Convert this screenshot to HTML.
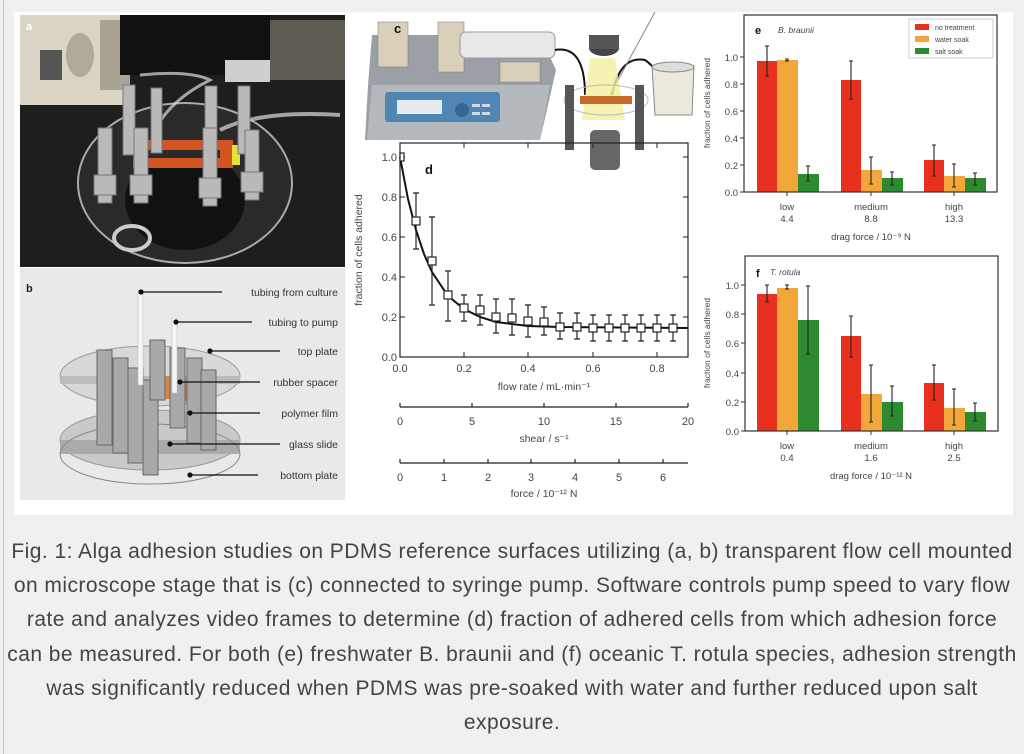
<!DOCTYPE html>
<html><head><meta charset="utf-8"><style>
html,body{margin:0;padding:0;background:#f0f0f0;width:1024px;height:754px;overflow:hidden;font-family:"Liberation Sans",sans-serif}
#wrap{position:absolute;left:3px;top:0;width:1021px;height:754px;border-left:1px solid #c8c8c8;background:#f0f0f0}
svg{position:absolute;left:0;top:0}
#cap{position:absolute;left:0;top:535px;width:1024px;text-align:center;font-size:21px;letter-spacing:0.45px;line-height:34.2px;color:#444;white-space:nowrap}
</style></head><body>
<div id="wrap"></div>
<svg width="1024" height="520" viewBox="0 0 1024 520" font-family="Liberation Sans, sans-serif">
<rect x="14" y="12" width="999" height="503" fill="#fff"/>
<!-- Photo a -->
<rect x="20" y="15" width="325" height="252" fill="#1e1e1e"/>
<rect x="20" y="15" width="110" height="90" fill="#d9d4c4"/>
<rect x="40" y="50" width="22" height="30" fill="#555"/>
<ellipse cx="80" cy="55" rx="14" ry="22" fill="#b0aa9a"/>
<rect x="100" y="20" width="30" height="70" fill="#a8a393"/>
<rect x="120" y="15" width="150" height="60" fill="#111"/>
<rect x="270" y="20" width="75" height="60" fill="#5d5b52"/>
<rect x="225" y="60" width="45" height="22" fill="#cfcfcf"/>
<ellipse cx="185" cy="183" rx="107" ry="80" fill="#2a2a2a" stroke="#aaa" stroke-width="2"/>
<ellipse cx="185" cy="200" rx="60" ry="50" fill="#111"/>
<path d="M140 75 Q190 70 210 80 Q170 100 155 130" stroke="#ddd" stroke-width="3" fill="none" opacity=".7"/>
<path d="M220 130 Q260 110 340 115" stroke="#ddd" stroke-width="4" fill="none" opacity=".7"/>
<rect x="133" y="140" width="100" height="28" fill="#d2541f"/>
<rect x="145" y="150" width="75" height="8" fill="#2a2a2a"/>
<rect x="232" y="145" width="8" height="20" fill="#e7e23a"/>
<g fill="#b9b9b9" stroke="#777" stroke-width="1">
<rect x="123" y="85" width="12" height="70"/><rect x="151" y="88" width="11" height="65"/>
<rect x="205" y="86" width="12" height="68"/><rect x="238" y="86" width="12" height="68"/>
<rect x="98" y="128" width="14" height="75"/><rect x="134" y="128" width="14" height="75"/>
<rect x="203" y="128" width="14" height="78"/><rect x="245" y="130" width="14" height="70"/>
<rect x="94" y="175" width="22" height="20"/><rect x="130" y="175" width="22" height="20"/>
<rect x="199" y="178" width="22" height="20"/><rect x="241" y="172" width="22" height="20"/>
</g>
<ellipse cx="132" cy="238" rx="18" ry="12" fill="none" stroke="#ccc" stroke-width="4"/>
<text x="26" y="30" font-size="11" font-weight="bold" fill="#fff">a</text>
<!-- Photo b -->
<rect x="20" y="268" width="325" height="232" fill="#e9e9e9"/>
<ellipse cx="150" cy="440" rx="90" ry="30" fill="#c9c9c9" stroke="#999"/>
<rect x="60" y="440" width="180" height="14" fill="#aaa"/>
<ellipse cx="150" cy="454" rx="90" ry="30" fill="none" stroke="#888"/>
<ellipse cx="150" cy="376" rx="90" ry="30" fill="#d8d8d8" stroke="#999"/>
<rect x="60" y="376" width="180" height="8" fill="#bbb"/>
<polygon points="158,375 195,380 190,402 160,398" fill="#d9843f"/>
<g fill="#a9a9a9" stroke="#666" stroke-width="1">
<rect x="97" y="350" width="15" height="95"/><rect x="113" y="358" width="15" height="95"/>
<rect x="128" y="368" width="15" height="95"/><rect x="143" y="380" width="15" height="95"/>
<rect x="150" y="340" width="15" height="60"/><rect x="170" y="348" width="15" height="80"/>
<rect x="187" y="358" width="15" height="85"/><rect x="201" y="370" width="15" height="80"/>
</g>
<rect x="138" y="290" width="5" height="95" fill="#f5f5f5" stroke="#bbb" stroke-width=".5"/>
<rect x="172" y="318" width="5" height="75" fill="#f5f5f5" stroke="#bbb" stroke-width=".5"/>
<text x="26" y="292" font-size="11" font-weight="bold" fill="#222">b</text>
<g stroke="#111" stroke-width="1.2" fill="#111" font-size="10.5">
<line x1="141" y1="292" x2="222" y2="292"/><circle cx="141" cy="292" r="2"/>
<line x1="176" y1="322" x2="252" y2="322"/><circle cx="176" cy="322" r="2"/>
<line x1="210" y1="351" x2="280" y2="351"/><circle cx="210" cy="351" r="2"/>
<line x1="180" y1="382" x2="260" y2="382"/><circle cx="180" cy="382" r="2"/>
<line x1="190" y1="413" x2="260" y2="413"/><circle cx="190" cy="413" r="2"/>
<line x1="170" y1="444" x2="280" y2="444"/><circle cx="170" cy="444" r="2"/>
<line x1="190" y1="475" x2="258" y2="475"/><circle cx="190" cy="475" r="2"/>
</g>
<g font-size="10.5" fill="#333" text-anchor="end">
<text x="338" y="296">tubing from culture</text><text x="338" y="326">tubing to pump</text>
<text x="338" y="355">top plate</text><text x="338" y="386">rubber spacer</text>
<text x="338" y="417">polymer film</text><text x="338" y="448">glass slide</text>
<text x="338" y="479">bottom plate</text></g>
<!-- Pump c -->
<polygon points="372,35 540,35 556,70 540,140 365,140 368,85" fill="#9aa0a6"/>
<polygon points="372,85 550,85 540,140 367,140" fill="#b4b9bd"/>
<rect x="385" y="92" width="115" height="30" rx="3" fill="#4f86b3"/>
<rect x="397" y="100" width="45" height="14" fill="#e4eaf0"/>
<circle cx="462" cy="110" r="7" fill="#35678f"/>
<g fill="#cfd9e3"><rect x="472" y="104" width="8" height="3"/><rect x="482" y="104" width="8" height="3"/><rect x="472" y="112" width="8" height="3"/><rect x="482" y="112" width="8" height="3"/></g>
<rect x="378" y="22" width="30" height="45" fill="#d8d0b8" stroke="#888" stroke-width=".6"/>
<rect x="438" y="22" width="26" height="50" fill="#d8d0b8" stroke="#888" stroke-width=".6"/>
<rect x="500" y="62" width="40" height="20" fill="#d8d0b8" stroke="#888" stroke-width=".6"/>
<rect x="460" y="32" width="95" height="26" rx="6" fill="#e8e8e8" stroke="#999"/>
<text x="394" y="33" font-size="13" font-weight="bold" fill="#111">c</text>
<path d="M555 50 Q585 45 585 95" stroke="#111" stroke-width="2" fill="none"/>
<path d="M612 95 Q620 55 645 60 Q660 70 665 95" stroke="#111" stroke-width="2" fill="none"/>
<line x1="655" y1="12" x2="610" y2="95" stroke="#888"/>
<polygon points="590,58 615,58 625,120 582,120" fill="#f3efa0" opacity=".8"/>
<ellipse cx="604" cy="48" rx="15" ry="8" fill="#444"/><rect x="589" y="35" width="30" height="14" fill="#555"/>
<ellipse cx="606" cy="100" rx="42" ry="15" fill="none" stroke="#bbb"/>
<rect x="580" y="96" width="52" height="8" fill="#c56b2a"/>
<g fill="#555"><rect x="565" y="85" width="9" height="65"/><rect x="635" y="85" width="9" height="65"/></g>
<rect x="590" y="130" width="30" height="40" rx="5" fill="#666"/>
<path d="M652 66 L694 66 L692 115 L655 115 Z" fill="#ece8dc" stroke="#888"/>
<ellipse cx="673" cy="67" rx="21" ry="5" fill="#ddd" stroke="#888"/>
<!-- Chart d -->
<rect x="400" y="143" width="288" height="214" fill="none" stroke="#222" stroke-width="1.2"/>
<g stroke="#222" stroke-width="1">
<line x1="464" y1="357" x2="464" y2="352"/><line x1="528" y1="357" x2="528" y2="352"/><line x1="593" y1="357" x2="593" y2="352"/><line x1="657" y1="357" x2="657" y2="352"/>
<line x1="464" y1="143" x2="464" y2="148"/><line x1="528" y1="143" x2="528" y2="148"/><line x1="593" y1="143" x2="593" y2="148"/><line x1="657" y1="143" x2="657" y2="148"/>
<line x1="400" y1="317" x2="405" y2="317"/><line x1="400" y1="277" x2="405" y2="277"/><line x1="400" y1="237" x2="405" y2="237"/><line x1="400" y1="197" x2="405" y2="197"/><line x1="400" y1="157" x2="405" y2="157"/>
<line x1="688" y1="317" x2="683" y2="317"/><line x1="688" y1="277" x2="683" y2="277"/><line x1="688" y1="237" x2="683" y2="237"/><line x1="688" y1="197" x2="683" y2="197"/><line x1="688" y1="157" x2="683" y2="157"/>
</g>
<g font-size="11" fill="#444" text-anchor="end">
<text x="397" y="361">0.0</text><text x="397" y="321">0.2</text><text x="397" y="281">0.4</text><text x="397" y="241">0.6</text><text x="397" y="201">0.8</text><text x="397" y="161">1.0</text></g>
<g font-size="11" fill="#444" text-anchor="middle">
<text x="400" y="372">0.0</text><text x="464" y="372">0.2</text><text x="528" y="372">0.4</text><text x="593" y="372">0.6</text><text x="657" y="372">0.8</text>
<text x="544" y="390" font-size="10.5">flow rate / mL·min⁻¹</text></g>
<text x="362" y="250" font-size="10.5" fill="#444" text-anchor="middle" transform="rotate(-90 362 250)">fraction of cells adhered</text>
<text x="425" y="174" font-size="13" font-weight="bold" fill="#111">d</text>
<polyline points="400,157 408,199 416,230 424,254 432,272 448,296 464,309 480,317 496,322 528,326 560,327 688,328" fill="none" stroke="#111" stroke-width="2"/>
<g stroke="#222" stroke-width="1.2" fill="none">
<path d="M416 249V193M413 249h6M413 193h6"/><path d="M432 305V217M429 305h6M429 217h6"/>
<path d="M448 321V271M445 321h6M445 271h6"/><path d="M464 321V295M461 321h6M461 295h6"/>
<path d="M480 325V295M477 325h6M477 295h6"/><path d="M496 333V299M493 333h6M493 299h6"/>
<path d="M512 335V299M509 335h6M509 299h6"/><path d="M528 337V305M525 337h6M525 305h6"/>
<path d="M544 335V307M541 335h6M541 307h6"/><path d="M560 339V313M557 339h6M557 313h6"/>
<path d="M577 339V313M574 339h6M574 313h6"/><path d="M593 341V315M590 341h6M590 315h6"/>
<path d="M609 341V315M606 341h6M606 315h6"/><path d="M625 341V315M622 341h6M622 315h6"/>
<path d="M641 341V315M638 341h6M638 315h6"/><path d="M657 341V315M654 341h6M654 315h6"/>
<path d="M673 341V315M670 341h6M670 315h6"/>
</g>
<g fill="#fff" stroke="#222" stroke-width="1.2">
<rect x="400" y="153" width="4" height="8"/>
<rect x="412" y="217" width="8" height="8"/><rect x="428" y="257" width="8" height="8"/><rect x="444" y="291" width="8" height="8"/>
<rect x="460" y="304" width="8" height="8"/><rect x="476" y="306" width="8" height="8"/><rect x="492" y="313" width="8" height="8"/>
<rect x="508" y="314" width="8" height="8"/><rect x="524" y="317" width="8" height="8"/><rect x="540" y="318" width="8" height="8"/>
<rect x="556" y="323" width="8" height="8"/><rect x="573" y="323" width="8" height="8"/><rect x="589" y="324" width="8" height="8"/>
<rect x="605" y="324" width="8" height="8"/><rect x="621" y="324" width="8" height="8"/><rect x="637" y="324" width="8" height="8"/>
<rect x="653" y="324" width="8" height="8"/><rect x="669" y="324" width="8" height="8"/></g>
<!-- shear axis -->
<g stroke="#222" stroke-width="1.2"><line x1="400" y1="407" x2="688" y2="407"/>
<line x1="400" y1="407" x2="400" y2="403"/><line x1="472" y1="407" x2="472" y2="403"/><line x1="544" y1="407" x2="544" y2="403"/><line x1="616" y1="407" x2="616" y2="403"/><line x1="688" y1="407" x2="688" y2="403"/>
<line x1="400" y1="463" x2="688" y2="463"/>
<line x1="400" y1="463" x2="400" y2="459"/><line x1="444" y1="463" x2="444" y2="459"/><line x1="488" y1="463" x2="488" y2="459"/><line x1="531" y1="463" x2="531" y2="459"/><line x1="575" y1="463" x2="575" y2="459"/><line x1="619" y1="463" x2="619" y2="459"/><line x1="663" y1="463" x2="663" y2="459"/></g>
<g font-size="11" fill="#444" text-anchor="middle">
<text x="400" y="425">0</text><text x="472" y="425">5</text><text x="544" y="425">10</text><text x="616" y="425">15</text><text x="688" y="425">20</text>
<text x="544" y="442" font-size="10.5">shear / s⁻¹</text>
<text x="400" y="481">0</text><text x="444" y="481">1</text><text x="488" y="481">2</text><text x="531" y="481">3</text><text x="575" y="481">4</text><text x="619" y="481">5</text><text x="663" y="481">6</text>
<text x="544" y="497" font-size="10.5">force / 10⁻¹² N</text></g>
<!-- Chart e -->
<g fill="#e8301f"><rect x="757" y="61" width="20" height="131"/><rect x="841" y="80" width="20" height="112"/><rect x="924" y="160" width="20" height="32"/></g>
<g fill="#f3a73a"><rect x="777" y="60" width="21" height="132"/><rect x="861" y="170" width="21" height="22"/><rect x="944" y="176" width="21" height="16"/></g>
<g fill="#2e8a2e"><rect x="798" y="174" width="21" height="18"/><rect x="882" y="178" width="21" height="14"/><rect x="965" y="178" width="21" height="14"/></g>
<g stroke="#222" stroke-width="1.1" fill="none">
<path d="M767 76V46M765 76h4M765 46h4"/><path d="M787 61V59M785 61h4M785 59h4"/><path d="M808 181V166M806 181h4M806 166h4"/>
<path d="M851 99V61M849 99h4M849 61h4"/><path d="M871 184V157M869 184h4M869 157h4"/><path d="M892 185V172M890 185h4M890 172h4"/>
<path d="M934 176V145M932 176h4M932 145h4"/><path d="M954 187V164M952 187h4M952 164h4"/><path d="M975 185V173M973 185h4M973 173h4"/></g>
<rect x="744" y="15" width="253" height="177" fill="none" stroke="#333" stroke-width="1.2"/>
<g stroke="#333"><line x1="787" y1="192" x2="787" y2="196"/><line x1="871" y1="192" x2="871" y2="196"/><line x1="954" y1="192" x2="954" y2="196"/>
<line x1="744" y1="192" x2="740" y2="192"/><line x1="744" y1="165" x2="740" y2="165"/><line x1="744" y1="138" x2="740" y2="138"/><line x1="744" y1="111" x2="740" y2="111"/><line x1="744" y1="84" x2="740" y2="84"/><line x1="744" y1="57" x2="740" y2="57"/></g>
<g font-size="9.5" fill="#444" text-anchor="end"><text x="738" y="196">0.0</text><text x="738" y="169">0.2</text><text x="738" y="142">0.4</text><text x="738" y="115">0.6</text><text x="738" y="88">0.8</text><text x="738" y="61">1.0</text></g>
<g font-size="9.5" fill="#444" text-anchor="middle"><text x="787" y="210">low</text><text x="787" y="222">4.4</text><text x="871" y="210">medium</text><text x="871" y="222">8.8</text><text x="954" y="210">high</text><text x="954" y="222">13.3</text>
<text x="871" y="240">drag force / 10⁻⁹ N</text></g>
<text x="710" y="103" font-size="8.5" fill="#444" text-anchor="middle" transform="rotate(-90 710 103)">fraction of cells adhered</text>
<text x="755" y="34" font-size="11" font-weight="bold" fill="#111">e</text>
<text x="778" y="33" font-size="8.5" font-style="italic" fill="#444">B. braunii</text>
<rect x="909" y="19" width="84" height="39" fill="#fff" stroke="#ccc"/>
<rect x="915" y="24" width="14" height="6" fill="#e8301f"/><rect x="915" y="36" width="14" height="6" fill="#f3a73a"/><rect x="915" y="48" width="14" height="6" fill="#2e8a2e"/>
<g font-size="7" fill="#444"><text x="935" y="30">no treatment</text><text x="935" y="42">water soak</text><text x="935" y="54">salt soak</text></g>
<!-- Chart f -->
<g fill="#e8301f"><rect x="757" y="294" width="20" height="137"/><rect x="841" y="336" width="20" height="95"/><rect x="924" y="383" width="20" height="48"/></g>
<g fill="#f3a73a"><rect x="777" y="288" width="21" height="143"/><rect x="861" y="394" width="21" height="37"/><rect x="944" y="408" width="21" height="23"/></g>
<g fill="#2e8a2e"><rect x="798" y="320" width="21" height="111"/><rect x="882" y="402" width="21" height="29"/><rect x="965" y="412" width="21" height="19"/></g>
<g stroke="#222" stroke-width="1.1" fill="none">
<path d="M767 302V285M765 302h4M765 285h4"/><path d="M787 289V285M785 289h4M785 285h4"/><path d="M808 354V286M806 354h4M806 286h4"/>
<path d="M851 357V316M849 357h4M849 316h4"/><path d="M871 422V365M869 422h4M869 365h4"/><path d="M892 416V386M890 416h4M890 386h4"/>
<path d="M934 400V365M932 400h4M932 365h4"/><path d="M954 425V389M952 425h4M952 389h4"/><path d="M975 421V403M973 421h4M973 403h4"/></g>
<rect x="745" y="256" width="253" height="175" fill="none" stroke="#333" stroke-width="1.2"/>
<g stroke="#333"><line x1="787" y1="431" x2="787" y2="435"/><line x1="871" y1="431" x2="871" y2="435"/><line x1="954" y1="431" x2="954" y2="435"/>
<line x1="745" y1="431" x2="741" y2="431"/><line x1="745" y1="402" x2="741" y2="402"/><line x1="745" y1="373" x2="741" y2="373"/><line x1="745" y1="343" x2="741" y2="343"/><line x1="745" y1="314" x2="741" y2="314"/><line x1="745" y1="285" x2="741" y2="285"/></g>
<g font-size="9.5" fill="#444" text-anchor="end"><text x="739" y="435">0.0</text><text x="739" y="406">0.2</text><text x="739" y="377">0.4</text><text x="739" y="347">0.6</text><text x="739" y="318">0.8</text><text x="739" y="289">1.0</text></g>
<g font-size="9.5" fill="#444" text-anchor="middle"><text x="787" y="449">low</text><text x="787" y="461">0.4</text><text x="871" y="449">medium</text><text x="871" y="461">1.6</text><text x="954" y="449">high</text><text x="954" y="461">2.5</text>
<text x="871" y="479">drag force / 10⁻¹² N</text></g>
<text x="710" y="343" font-size="8.5" fill="#444" text-anchor="middle" transform="rotate(-90 710 343)">fraction of cells adhered</text>
<text x="756" y="277" font-size="11" font-weight="bold" fill="#111">f</text>
<text x="770" y="275" font-size="8.5" font-style="italic" fill="#444">T. rotula</text>
</svg>
<div id="cap">Fig. 1: Alga adhesion studies on PDMS reference surfaces utilizing (a, b) transparent flow cell mounted<br>on microscope stage that is (c) connected to syringe pump. Software controls pump speed to vary flow<br>rate and analyzes video frames to determine (d) fraction of adhered cells from which adhesion force<br>can be measured. For both (e) freshwater B. braunii and (f) oceanic T. rotula species, adhesion strength<br>was significantly reduced when PDMS was pre-soaked with water and further reduced upon salt<br>exposure.</div>
</body></html>
